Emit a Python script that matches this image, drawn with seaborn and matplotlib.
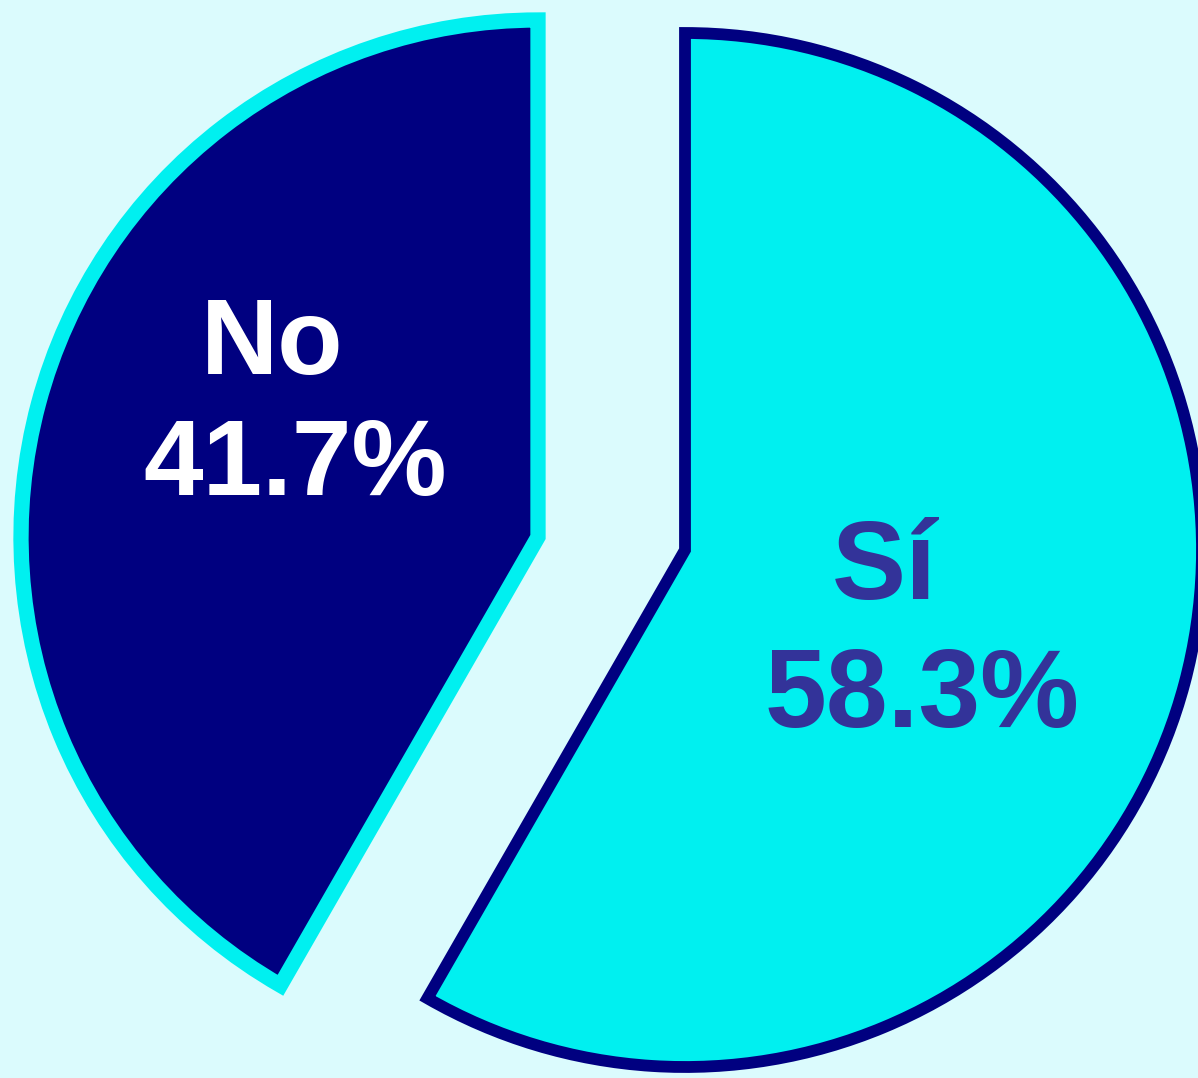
import matplotlib.pyplot as plt
import seaborn as sns

# datos del gráfico
labels = ["No", "Sí"]
shares = [41.7, 58.3]
pct_labels = ["41.7%", "58.3%"]

fill_colors = ["#000080", "#00F0F0"]
edge_colors = ["#00F0F0", "#000080"]
text_colors = ["white", "#333399"]

sns.set_theme(style="white")
plt.rcParams["font.family"] = ["Liberation Sans", "DejaVu Sans"]

bg = "#DBFBFD"
fig = plt.figure(figsize=(11.98, 10.78), dpi=100, facecolor=bg)
ax = fig.add_axes([0, 0, 1, 1])
ax.set_facecolor(bg)

wedges, _ = ax.pie(
    shares,
    startangle=90,
    counterclock=True,
    radius=517,
    colors=fill_colors,
    wedgeprops=dict(joinstyle="miter"),
)

# cada porción separada a mano (centro en coordenadas de la figura)
centers = [(538, 541), (685, 528)]
widths = [11, 8.5]
for w, ec, c, lw in zip(wedges, edge_colors, centers, widths):
    w.set_edgecolor(ec)
    w.set_linewidth(lw)
    w.set_center(c)

# etiquetas
name_pos = [(272, 1078 - 346), (884, 1078 - 570)]
pct_pos = [(295, 1078 - 467), (922, 1078 - 698)]
sizes = [77, 80]
for lab, pct, npos, ppos, col, fs in zip(labels, pct_labels, name_pos, pct_pos, text_colors, sizes):
    ax.text(*npos, lab, ha="center", va="center", color=col,
            fontsize=fs, fontweight="bold")
    ax.text(*ppos, pct, ha="center", va="center", color=col,
            fontsize=fs, fontweight="bold")

ax.set_xlim(0, 1198)
ax.set_ylim(0, 1078)
ax.set_aspect("equal")
ax.axis("off")

plt.savefig("out.png", dpi=100, facecolor=bg)
plt.close()
